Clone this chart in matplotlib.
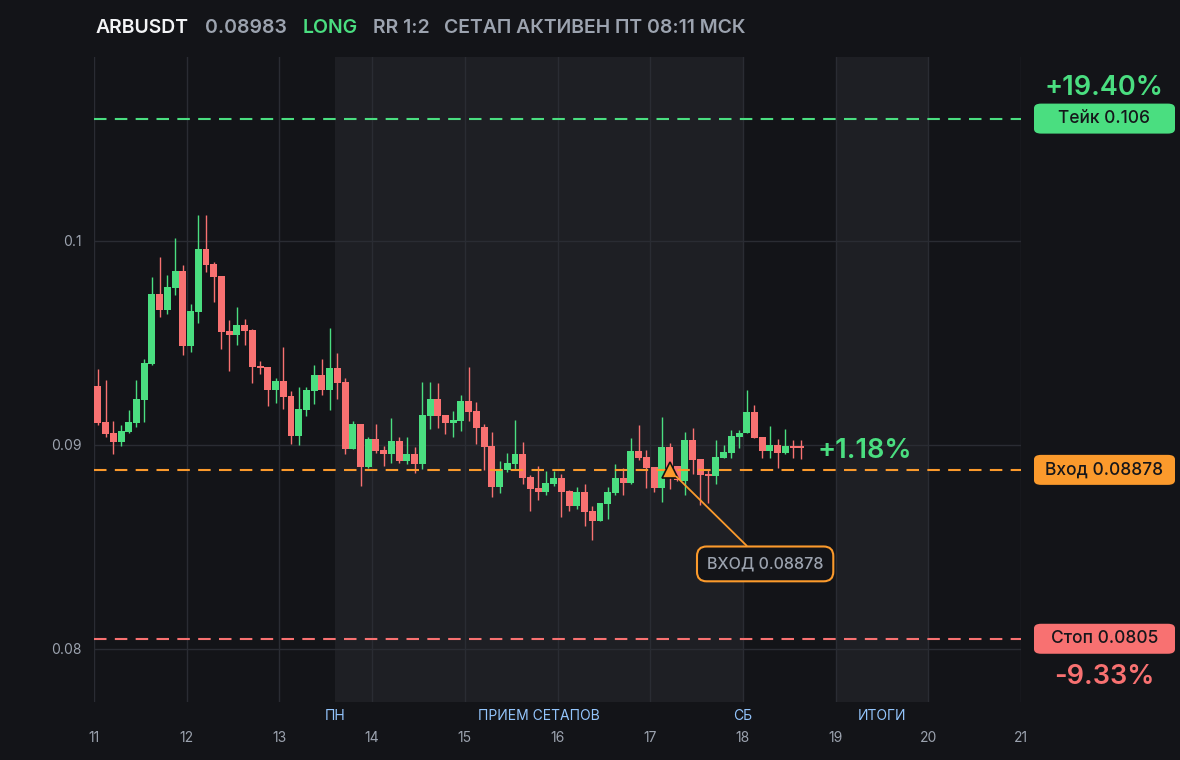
import matplotlib
matplotlib.use("Agg")
import matplotlib.pyplot as plt
from matplotlib.patches import FancyBboxPatch, Rectangle
import numpy as np

plt.rcParams['font.family'] = ['Inter', 'DejaVu Sans']

# 2h candles, ARBUSDT
opens = [0.09289, 0.09113, 0.09059, 0.09015, 0.09064, 0.09108, 0.09221, 0.09397, 0.09740, 0.09662,
         0.09770, 0.09853, 0.09485, 0.09652, 0.09961, 0.09887, 0.09828, 0.09559, 0.09539, 0.09588,
         0.09564, 0.09387, 0.09382, 0.09270, 0.09314, 0.09240, 0.09044, 0.09172, 0.09265, 0.09343,
         0.09270, 0.09378, 0.09309, 0.08980, 0.09103, 0.08892, 0.09029, 0.08976, 0.08956, 0.09020,
         0.08922, 0.08956, 0.08907, 0.09142, 0.09226, 0.09147, 0.09108, 0.09118, 0.09216, 0.09167,
         0.09088, 0.08995, 0.08794, 0.08877, 0.08907, 0.08956, 0.08843, 0.08789, 0.08770, 0.08809,
         0.08838, 0.08775, 0.08701, 0.08770, 0.08677, 0.08628, 0.08711, 0.08765, 0.08838, 0.08814,
         0.08971, 0.08941, 0.08892, 0.08789, 0.08990, 0.08897, 0.08823, 0.09025, 0.08931, 0.08858,
         0.08848, 0.08936, 0.08961, 0.09039, 0.09059, 0.09162, 0.09039, 0.08971, 0.09000, 0.08961,
         0.08995, 0.08995]
highs = [0.09373, 0.09319, 0.09118, 0.09098, 0.09172, 0.09319, 0.09422, 0.09824, 0.09922, 0.09833,
         0.10015, 0.09882, 0.09691, 0.10128, 0.10128, 0.09897, 0.09828, 0.09613, 0.09677, 0.09618,
         0.09569, 0.09412, 0.09382, 0.09328, 0.09480, 0.09265, 0.09284, 0.09284, 0.09392, 0.09422,
         0.09574, 0.09451, 0.09328, 0.09118, 0.09103, 0.09039, 0.09103, 0.08995, 0.09132, 0.09039,
         0.09039, 0.08990, 0.09309, 0.09309, 0.09304, 0.09147, 0.09167, 0.09245, 0.09382, 0.09211,
         0.09103, 0.09064, 0.08922, 0.08961, 0.09123, 0.09015, 0.08853, 0.08897, 0.08872, 0.08872,
         0.08858, 0.08780, 0.08794, 0.08809, 0.08701, 0.08716, 0.08794, 0.08907, 0.08887, 0.09034,
         0.09098, 0.08976, 0.08892, 0.09137, 0.09010, 0.08897, 0.09064, 0.09083, 0.08931, 0.08877,
         0.09025, 0.09000, 0.09074, 0.09074, 0.09270, 0.09196, 0.09039, 0.09093, 0.09029, 0.09078,
         0.09025, 0.09025]
lows = [0.09098, 0.09039, 0.08956, 0.08995, 0.09059, 0.09088, 0.09113, 0.09390, 0.09628, 0.09642,
        0.09735, 0.09441, 0.09456, 0.09598, 0.09848, 0.09701, 0.09471, 0.09363, 0.09490, 0.09490,
        0.09304, 0.09348, 0.09191, 0.09206, 0.09176, 0.09005, 0.09000, 0.09142, 0.09201, 0.09245,
        0.09172, 0.09226, 0.08956, 0.08980, 0.08799, 0.08887, 0.08961, 0.08897, 0.08912, 0.08912,
        0.08907, 0.08863, 0.08882, 0.09078, 0.09083, 0.09054, 0.09039, 0.09069, 0.09118, 0.09005,
        0.08877, 0.08745, 0.08765, 0.08868, 0.08877, 0.08809, 0.08677, 0.08730, 0.08755, 0.08799,
        0.08647, 0.08677, 0.08686, 0.08603, 0.08534, 0.08628, 0.08637, 0.08755, 0.08755, 0.08809,
        0.08926, 0.08789, 0.08770, 0.08721, 0.08784, 0.08823, 0.08755, 0.08858, 0.08706, 0.08716,
        0.08809, 0.08936, 0.08936, 0.08985, 0.09059, 0.09034, 0.08936, 0.08936, 0.08887, 0.08956,
        0.08936, 0.08931]
closes = [0.09108, 0.09054, 0.09015, 0.09069, 0.09113, 0.09226, 0.09402, 0.09740, 0.09662, 0.09775,
          0.09853, 0.09485, 0.09657, 0.09961, 0.09882, 0.09824, 0.09554, 0.09539, 0.09588, 0.09559,
          0.09382, 0.09378, 0.09270, 0.09314, 0.09235, 0.09044, 0.09176, 0.09270, 0.09343, 0.09270,
          0.09378, 0.09304, 0.08980, 0.09103, 0.08892, 0.09029, 0.08971, 0.08956, 0.09020, 0.08922,
          0.08956, 0.08907, 0.09147, 0.09226, 0.09142, 0.09108, 0.09123, 0.09216, 0.09162, 0.09083,
          0.08990, 0.08794, 0.08882, 0.08912, 0.08956, 0.08838, 0.08784, 0.08770, 0.08814, 0.08838,
          0.08770, 0.08701, 0.08770, 0.08672, 0.08628, 0.08716, 0.08770, 0.08838, 0.08814, 0.08971,
          0.08936, 0.08887, 0.08789, 0.08990, 0.08887, 0.08828, 0.09025, 0.08926, 0.08853, 0.08848,
          0.08941, 0.08966, 0.09044, 0.09059, 0.09162, 0.09034, 0.08971, 0.09000, 0.08961, 0.08995,
          0.08985, 0.08985]

start_day = 11.0
candle_step = 2 / 24  # 2h

take_price = 0.106
entry_price = 0.08878
stop_price = 0.0805
last_price = 0.08983
entry_candle = 74  # index of the entry candle

sessions = [(13.6, 18.0), (19.0, 20.0)]
session_labels = [(13.6, "ПН"), (15.8, "ПРИЕМ СЕТАПОВ"), (18.0, "СБ"), (19.5, "ИТОГИ")]
day_ticks = list(range(11, 22))
price_ticks = [0.08, 0.09, 0.1]
price_ticklabels = ["0.08", "0.09", "0.1"]

BG = "#131418"
SHADE = "#1e1f24"
GRID = "#2a2c33"
GREEN = "#4ade80"
RED = "#f87171"
ORANGE = "#fb9a2c"
GRAY = "#9ca3af"
BLUE = "#93c5fd"

fig = plt.figure(figsize=(11.8, 7.6), dpi=100, facecolor=BG)
ax = fig.add_axes([94 / 1180, 1 - 702 / 760, 927 / 1180, 645 / 760])
ax.set_facecolor(BG)
ax.set_xlim(11, 21)
ax.set_ylim(0.0774, 0.10902)

for a, b in sessions:
    ax.axvspan(a, b, color=SHADE, zorder=0, lw=0)

for d in day_ticks:
    ax.axvline(d, color=GRID, lw=1, zorder=1)
for p in price_ticks:
    ax.axhline(p, color=GRID, lw=1, zorder=1)

for s in ax.spines.values():
    s.set_visible(False)

ax.set_xticks(day_ticks)
ax.set_xticklabels([str(d) for d in day_ticks])
ax.set_yticks(price_ticks)
ax.set_yticklabels(price_ticklabels)
ax.tick_params(axis='x', length=0, pad=21, colors=GRAY, labelsize=10)
ax.tick_params(axis='y', length=0, pad=9, colors=GRAY, labelsize=10)

for x, lab in session_labels:
    ax.text(x, -0.022, lab, transform=ax.get_xaxis_transform(), ha='center', va='center',
            color=BLUE, fontsize=10, clip_on=False)

# candles
w = candle_step * 0.9
for i in range(len(opens)):
    x = start_day + (i + 0.5) * candle_step
    o, h, l, c = opens[i], highs[i], lows[i], closes[i]
    col = GREEN if c >= o else RED
    ax.plot([x, x], [l, h], color=col, lw=1, zorder=3, solid_capstyle='butt')
    lo, hi = min(o, c), max(o, c)
    ax.add_patch(Rectangle((x - w / 2, lo), w, max(hi - lo, 0.00004), facecolor=col,
                           edgecolor='none', zorder=4))

# levels
ax.axhline(take_price, color=GREEN, lw=1.5, ls=(0, (6, 4)), zorder=5)
ax.axhline(entry_price, color=ORANGE, lw=1.5, ls=(0, (6, 4)), zorder=5)
ax.axhline(stop_price, color=RED, lw=1.5, ls=(0, (6, 4)), zorder=5)

# entry marker + callout
ex = start_day + (entry_candle + 0.5) * candle_step
ax.plot(ex, entry_price, marker='^', ms=12, color=ORANGE, mec='#111', mew=1.2, zorder=7)
ax.annotate("ВХОД 0.08878", xy=(ex, entry_price), xytext=(18.24, 0.08417),
            ha='center', va='center', color=GRAY, fontsize=11.5, fontweight='medium', zorder=8,
            bbox=dict(boxstyle='round,pad=0.62,rounding_size=0.6', fc=BG, ec=ORANGE, lw=1.5),
            arrowprops=dict(arrowstyle='-', color=ORANGE, lw=1.3, shrinkA=0, shrinkB=7))

pnl_now = (last_price / entry_price - 1) * 100
ax.text(18.8, 0.08971, f"+{pnl_now:.2f}%", color=GREEN, fontsize=19.5, fontweight='semibold',
        ha='left', va='center', zorder=8)

# right side labels
def tag(price, text, color):
    _, yp = ax.transData.transform((0, price))
    yf = yp / fig.bbox.height
    h = 30 / 760
    fig.patches.append(FancyBboxPatch((1034 / 1180, yf - h / 2), 141 / 1180, h,
                                      boxstyle='round,pad=0,rounding_size=0.006',
                                      transform=fig.transFigure, fc=color, ec='none'))
    fig.text(1104.5 / 1180, yf, text, ha='center', va='center', color='#15161a',
             fontsize=12.5, fontweight='medium')
    return yf

y_take = tag(take_price, "Тейк 0.106", GREEN)
tag(entry_price, "Вход 0.08878", ORANGE)
y_stop = tag(stop_price, "Стоп 0.0805", RED)

take_pct = (take_price / entry_price - 1) * 100
stop_pct = (stop_price / entry_price - 1) * 100
fig.text(1104 / 1180, y_take + 31 / 760, f"+{take_pct:.2f}%", ha='center', va='center',
         color=GREEN, fontsize=19.5, fontweight='semibold')
fig.text(1104 / 1180, y_stop - 38 / 760, f"{stop_pct:.2f}%", ha='center', va='center',
         color=RED, fontsize=19.5, fontweight='semibold')

# header
hy = 1 - 28 / 760
hfs = 14
fig.text(96 / 1180, hy, "ARBUSDT", color="#f3f4f6", fontsize=hfs, fontweight='semibold', va='center')
fig.text(205 / 1180, hy, f"{last_price:.5f}", color=GRAY, fontsize=hfs, fontweight='semibold', va='center')
fig.text(303 / 1180, hy, "LONG", color=GREEN, fontsize=hfs, fontweight='semibold', va='center')
fig.text(373 / 1180, hy, "RR 1:2", color=GRAY, fontsize=hfs, fontweight='semibold', va='center')
fig.text(444 / 1180, hy, "СЕТАП АКТИВЕН ПТ 08:11 МСК", color=GRAY, fontsize=hfs,
         fontweight='semibold', va='center')

plt.savefig("out.png", dpi=100, facecolor=BG)
